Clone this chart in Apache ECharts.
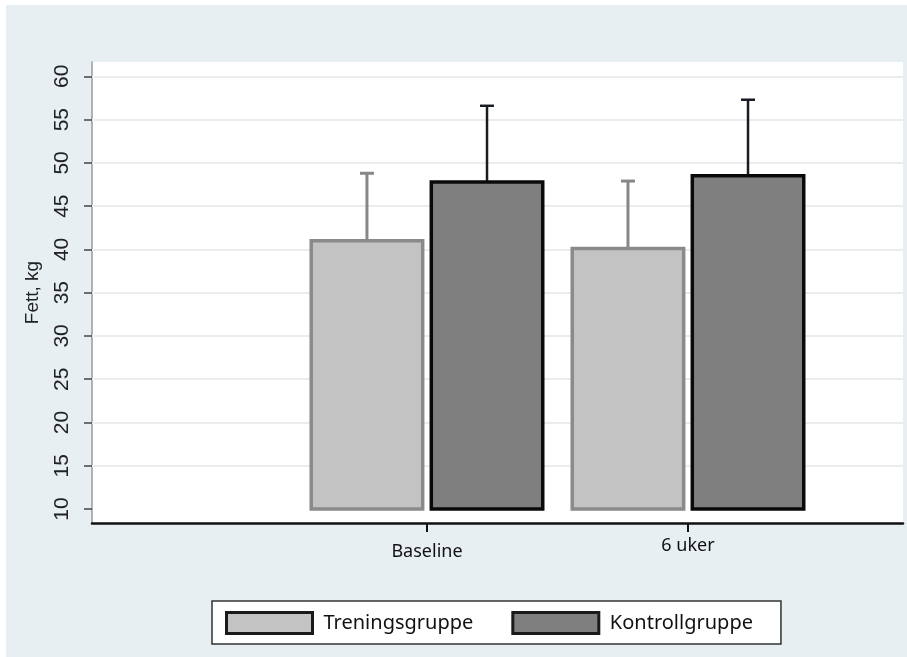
<!DOCTYPE html>
<html>
<head>
<meta charset="utf-8">
<script src="https://cdn.jsdelivr.net/npm/echarts@6/dist/echarts.min.js"></script>
<style>
html,body{margin:0;padding:0;background:#ffffff;}
#c{width:907px;height:657px;}
</style>
</head>
<body>
<div id="c"></div>
<script>
// ---- data ----
var categories = ['Baseline', '6 uker'];
var seriesNames = ['Treningsgruppe', 'Kontrollgruppe'];
var treningMean = [41.0, 40.1];
var treningUpper = [48.8, 47.9];
var kontrollMean = [47.8, 48.5];
var kontrollUpper = [56.6, 57.3];
var yTicks = [10, 15, 20, 25, 30, 35, 40, 45, 50, 55, 60];
var gridTicks = [15, 20, 25, 30, 35, 40, 45, 50, 55, 60];
var barBase = 10;

function rows(means, uppers) {
  return means.map(function (m, i) { return [i + 1, m, uppers[i]]; });
}

function makeRender(offsetFrac, fill, stroke, errColor, errWidth) {
  return function (params, api) {
    var x = api.value(0), m = api.value(1), up = api.value(2);
    var unit = api.size([1, 0])[0];
    var p = api.coord([x, m]);
    var cx = p[0] + offsetFrac * unit;
    var yTop = p[1];
    var yBase = api.coord([x, barBase])[1];
    var yUp = api.coord([x, up])[1];
    var w = 0.427 * unit;
    return {
      type: 'group',
      children: [
        { type: 'line', shape: { x1: cx, y1: yTop, x2: cx, y2: yUp }, style: { stroke: errColor, lineWidth: errWidth } },
        { type: 'line', shape: { x1: cx - 7, y1: yUp, x2: cx + 7, y2: yUp }, style: { stroke: errColor, lineWidth: errWidth } },
        { type: 'rect', shape: { x: cx - w / 2, y: yTop, width: w, height: yBase - yTop }, style: { fill: fill, stroke: stroke, lineWidth: 3.5 } }
      ]
    };
  };
}

var chart = echarts.init(document.getElementById('c'), null, { renderer: 'canvas' });
var option = {
  backgroundColor: '#e8eff2',
  animation: false,
  graphic: [
    { type: 'rect', shape: { x: 0, y: 0, width: 907, height: 5 }, style: { fill: '#ffffff' }, silent: true },
    { type: 'rect', shape: { x: 0, y: 0, width: 6, height: 657 }, style: { fill: '#ffffff' }, silent: true }
  ],
  grid: { left: 92, right: 4, top: 62, bottom: 134, show: true, backgroundColor: '#ffffff', borderWidth: 0 },
  xAxis: {
    type: 'value',
    min: -0.2835,
    max: 2.8238,
    splitLine: { show: false },
    axisLine: { show: true, onZero: false, lineStyle: { color: '#111111', width: 2.5 } },
    axisTick: { show: true, length: 9, lineStyle: { color: '#111111', width: 2 }, customValues: [1, 2] },
    axisLabel: {
      customValues: [1, 2],
      margin: 14,
      formatter: function (v) {
        var i = Math.round(v) - 1;
        return i === 0 ? '{a|' + categories[i] + '}' : '{b|' + categories[i] + '}';
      },
      rich: {
        a: { fontFamily: 'Noto Sans', fontSize: 18, color: '#111111', padding: [6, 0, 0, 0] },
        b: { fontFamily: 'Noto Sans', fontSize: 18, color: '#111111' }
      }
    }
  },
  yAxis: {
    type: 'value',
    min: 8.38,
    max: 61.66,
    name: 'Fett, kg',
    nameLocation: 'middle',
    nameGap: 50,
    nameTextStyle: { fontFamily: 'Liberation Sans', fontSize: 19, color: '#222222' },
    splitLine: { show: false },
    axisLine: { show: true, onZero: false, lineStyle: { color: '#9a9a9a', width: 1.5 } },
    axisTick: { show: true, length: 8, lineStyle: { color: '#444444', width: 1.5 }, customValues: yTicks },
    axisLabel: { customValues: yTicks, rotate: 90, margin: 19, fontFamily: 'Liberation Sans', fontSize: 21, color: '#222222' }
  },
  legend: {
    left: 212,
    top: 601,
    orient: 'horizontal',
    backgroundColor: '#ffffff',
    borderColor: '#333333',
    borderWidth: 1.5,
    padding: [10, 28, 9, 13],
    itemWidth: 86,
    itemHeight: 21,
    itemGap: 38,
    icon: 'rect',
    textStyle: { fontFamily: 'Noto Sans', fontSize: 20, color: '#111111', padding: [0, 0, 0, 6] },
    data: [
      { name: seriesNames[0], itemStyle: { color: '#c3c3c3', borderColor: '#1a1a1a', borderWidth: 3 } },
      { name: seriesNames[1], itemStyle: { color: '#7f7f7f', borderColor: '#1a1a1a', borderWidth: 3 } }
    ]
  },
  series: [
    {
      name: 'grid',
      type: 'line',
      data: [],
      z: 1,
      silent: true,
      markLine: {
        silent: true,
        symbol: 'none',
        label: { show: false },
        lineStyle: { color: '#ececec', width: 2, type: 'solid' },
        data: gridTicks.map(function (v) { return { yAxis: v }; })
      }
    },
    {
      name: seriesNames[0],
      type: 'custom',
      itemStyle: { color: '#c3c3c3' },
      renderItem: makeRender(-0.23, '#c3c3c3', '#8a8a8a', '#8a8686', 3),
      encode: { x: 0, y: [1, 2] },
      data: rows(treningMean, treningUpper),
      z: 5
    },
    {
      name: seriesNames[1],
      type: 'custom',
      itemStyle: { color: '#7f7f7f' },
      renderItem: makeRender(0.23, '#7f7f7f', '#0a0a0a', '#1a1c24', 2.5),
      encode: { x: 0, y: [1, 2] },
      data: rows(kontrollMean, kontrollUpper),
      z: 5
    }
  ]
};
chart.setOption(option);
</script>
</body>
</html>
